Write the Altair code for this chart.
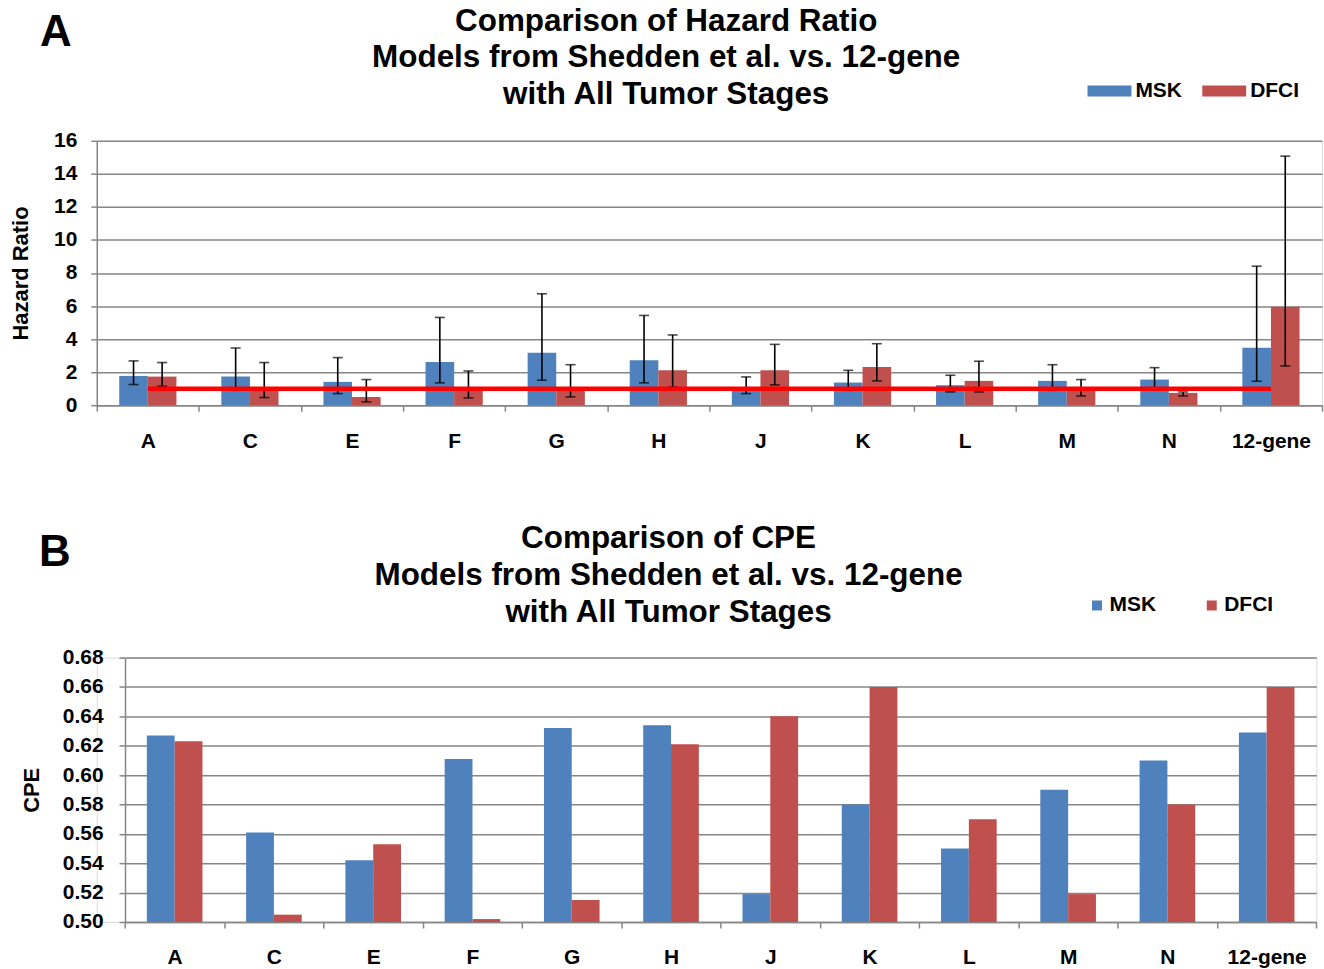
import altair as alt
import pandas as pd

FONT = "Liberation Sans"

models = ["A", "C", "E", "F", "G", "H", "J", "K", "L", "M", "N", "12-gene"]
series = ["MSK", "DFCI"]
colors = ["#4F81BD", "#C0504D"]

# Panel A: hazard ratios with confidence intervals
hr_msk = [1.77, 1.73, 1.41, 2.62, 3.18, 2.72, 1.05, 1.37, 1.21, 1.47, 1.55, 3.48]
hr_msk_lo = [1.25, 0.90, 0.70, 1.35, 1.51, 1.35, 0.70, 0.90, 0.80, 0.90, 1.05, 1.45]
hr_msk_hi = [2.68, 3.46, 2.88, 5.31, 6.74, 5.43, 1.71, 2.11, 1.81, 2.45, 2.27, 8.41]
hr_dfci = [1.73, 1.05, 0.50, 0.95, 1.05, 2.11, 2.11, 2.31, 1.47, 0.93, 0.74, 5.96]
hr_dfci_lo = [1.15, 0.46, 0.20, 0.44, 0.50, 1.10, 1.23, 1.47, 0.80, 0.56, 0.56, 2.37]
hr_dfci_hi = [2.58, 2.58, 1.55, 2.07, 2.45, 4.25, 3.68, 3.72, 2.66, 1.55, 0.80, 15.07]
hr_reference = 1.0
hr_ticks = [0, 2, 4, 6, 8, 10, 12, 14, 16]

# Panel B: CPE
cpe_msk = [0.627, 0.561, 0.542, 0.611, 0.632, 0.634, 0.519, 0.580, 0.550, 0.590, 0.610, 0.629]
cpe_dfci = [0.623, 0.505, 0.553, 0.502, 0.515, 0.621, 0.640, 0.660, 0.570, 0.519, 0.580, 0.660]
cpe_ticks = [0.50, 0.52, 0.54, 0.56, 0.58, 0.60, 0.62, 0.64, 0.66, 0.68]

title_a = ["Comparison of Hazard Ratio", "Models from Shedden et al. vs. 12-gene", "with All Tumor Stages"]
title_b = ["Comparison of CPE", "Models from Shedden et al. vs. 12-gene", "with All Tumor Stages"]

hr_rows = []
cpe_rows = []
for i, m in enumerate(models):
    hr_rows.append(dict(model=m, series="MSK", hr=hr_msk[i], lo=hr_msk_lo[i], hi=hr_msk_hi[i]))
    hr_rows.append(dict(model=m, series="DFCI", hr=hr_dfci[i], lo=hr_dfci_lo[i], hi=hr_dfci_hi[i]))
    cpe_rows.append(dict(model=m, series="MSK", cpe=cpe_msk[i]))
    cpe_rows.append(dict(model=m, series="DFCI", cpe=cpe_dfci[i]))
hr_df = pd.DataFrame(hr_rows)
cpe_df = pd.DataFrame(cpe_rows)
ref_df = pd.DataFrame({"model": models, "ref": [hr_reference] * len(models)})

GRID = "#868686"
AX = "#868686"

W_A = 1228
W_B = 1222.3
H = 265
B_SHIFT = 28.3

label_style = dict(labelFont=FONT, labelFontSize=21, labelFontWeight="bold", labelColor="black")
title_style = dict(titleFont=FONT, titleFontSize=22, titleFontWeight="bold", titleColor="black")


def x_enc(scale_range=None):
    sc = dict(paddingInner=0, paddingOuter=0)
    if scale_range is not None:
        sc["range"] = scale_range
    return alt.X(
        "model:N", sort=models, title=None,
        scale=alt.Scale(**sc),
        axis=alt.Axis(labelAngle=0, tickBand="extent", grid=False, domainColor=AX, domainWidth=1.5,
                      tickColor=AX, tickWidth=1.5, tickSize=6, labelPadding=19, **label_style),
    )


xoff = alt.XOffset("series:N", sort=series, scale=alt.Scale(paddingInner=0, paddingOuter=0.785))

# ---------------- Panel A ----------------
ya_axis = alt.Axis(values=hr_ticks, grid=True, gridColor=GRID, gridWidth=1.5,
                   domainColor=AX, domainWidth=1.5, tickColor=AX, tickWidth=1.5, tickSize=6,
                   labelPadding=14, titlePadding=21, labelOverlap=False, **label_style, **title_style)
ya_scale = alt.Scale(domain=[0, 16], nice=False)


def ya(field):
    return alt.Y(field, title="Hazard Ratio", scale=ya_scale, axis=ya_axis)


legend_a = alt.Legend(title=None, orient="none", legendX=993, legendY=-72, direction="horizontal",
                      symbolType="M-1,-0.25H1V0.25H-1Z", symbolSize=1936, symbolStrokeWidth=0,
                      labelOffset=4, columnPadding=20, padding=0, labelFont=FONT, labelFontSize=21,
                      labelFontWeight="bold", labelColor="black")

base_a = alt.Chart(hr_df)
bars_a = base_a.mark_bar().encode(
    x=x_enc(), xOffset=xoff, y=ya("hr:Q"),
    color=alt.Color("series:N", sort=series, scale=alt.Scale(domain=series, range=colors), legend=legend_a),
)
err_a = base_a.mark_rule(color="black", strokeWidth=1.6).encode(
    x=x_enc(), xOffset=xoff, y=ya("lo:Q"), y2="hi:Q")
cap_lo = base_a.mark_tick(color="black", thickness=1.6, size=10, orient="horizontal").encode(
    x=x_enc(), xOffset=xoff, y=ya("lo:Q"))
cap_hi = base_a.mark_tick(color="black", thickness=1.6, size=10, orient="horizontal").encode(
    x=x_enc(), xOffset=xoff, y=ya("hi:Q"))
ref_line = alt.Chart(ref_df).mark_line(color="#FF0000", strokeWidth=4.5).encode(
    x=x_enc(), y=ya("ref:Q"))
letter_a = alt.Chart(pd.DataFrame({"k": [0]})).mark_text(
    text="A", font=FONT, fontSize=44, fontWeight="bold", align="left", baseline="alphabetic", color="black"
).encode(x=alt.value(-57), y=alt.value(-95))

chart_a = alt.layer(bars_a, err_a, cap_lo, cap_hi, ref_line, letter_a).properties(
    width=W_A, height=H,
    title=alt.TitleParams(text=title_a, font=FONT, fontSize=31.5, fontWeight="bold", lineHeight=37,
                          anchor="middle", frame="bounds", offset=-100, color="black"),
)

# ---------------- Panel B ----------------
yb = alt.Y("cpe:Q", title="CPE",
           scale=alt.Scale(domain=[0.5, 0.68], nice=False, zero=False),
           axis=alt.Axis(values=cpe_ticks, format=".2f", grid=True, gridColor=GRID, gridWidth=1.5,
                         domainColor=AX, domainWidth=1.5, tickColor=AX, tickWidth=1.5, tickSize=6,
                         offset=-B_SHIFT, labelPadding=16, titlePadding=19, labelOverlap=False,
                         **label_style, **title_style))

legend_b = alt.Legend(title=None, orient="none", legendX=992, legendY=-63, direction="horizontal",
                      symbolType="square", symbolSize=100, symbolStrokeWidth=0,
                      labelOffset=2, columnPadding=45, padding=0, labelFont=FONT, labelFontSize=21,
                      labelFontWeight="bold", labelColor="black")

bars_b = alt.Chart(cpe_df).mark_bar(clip=True).encode(
    x=x_enc([B_SHIFT, W_B]), xOffset=xoff, y=yb, y2=alt.datum(0.5),
    color=alt.Color("series:N", sort=series, scale=alt.Scale(domain=series, range=colors), legend=legend_b),
)
letter_b = alt.Chart(pd.DataFrame({"k": [0]})).mark_text(
    text="B", font=FONT, fontSize=44, fontWeight="bold", align="left", baseline="alphabetic", color="black"
).encode(x=alt.value(-58), y=alt.value(-92))

chart_b = alt.layer(bars_b, letter_b).properties(
    width=W_B, height=H,
    title=alt.TitleParams(text=title_b, font=FONT, fontSize=31.5, fontWeight="bold", lineHeight=37,
                          anchor="middle", frame="bounds", offset=-98, color="black"),
)

chart = alt.vconcat(chart_a, chart_b, spacing=71).resolve_scale(
    color="independent", x="independent", y="independent", xOffset="independent"
).resolve_legend(color="independent").properties(
    padding={"left": 9, "top": 4, "right": 0, "bottom": 0}
).configure_view(stroke=None).configure(background="white")

chart.save("out.html", embed_options={"renderer": "svg", "actions": False})
